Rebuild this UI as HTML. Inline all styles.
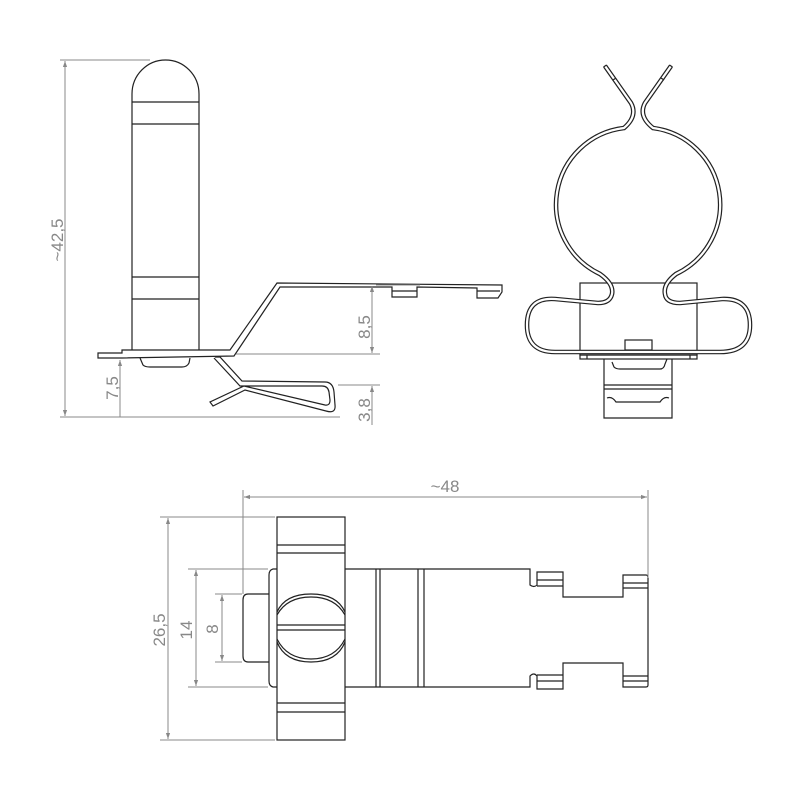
<!DOCTYPE html>
<html><head><meta charset="utf-8"><style>html,body{margin:0;padding:0;background:#fff}svg{display:block}</style></head>
<body>
<svg width="800" height="800" viewBox="0 0 800 800" xmlns="http://www.w3.org/2000/svg">
<defs>
<marker id="a" viewBox="0 0 10 10" refX="10" refY="5" markerWidth="10" markerHeight="6" orient="auto-start-reverse" markerUnits="userSpaceOnUse"><path d="M0,1.5 L10,5 L0,8.5 z" fill="#888"/></marker>
</defs>
<g fill="none" stroke="#222" stroke-width="1.2">
<!-- side view tube -->
<path d="M132,350 L132,94 A33.5,34 0 0 1 199,94 L199,350"/>
<line x1="132" y1="102" x2="199" y2="102"/><line x1="132" y1="124" x2="199" y2="124"/>
<line x1="132" y1="277" x2="199" y2="277"/><line x1="132" y1="299" x2="199" y2="299"/>
<!-- base plate -->
<path d="M98,353 L122,353 L122,350 L230,350 L277,283 L502,285 L502,292 L498,298 L477,298 L477,288 L417,287 L417,297 L392,297 L392,287 L280,287 L234,356 L122,358 L98,358 Z"/>
<line x1="477" y1="291" x2="500" y2="291"/>
<line x1="392" y1="291" x2="417" y2="291"/>
<path d="M140,358 L143,365 Q145,367 150,367 L182,367 Q187,367 189,363 L190,358"/>
<!-- lower spring -->
<path d="M215,357 L220,357 L242,381 L325,382 Q333,382 334,392 L335,405 Q336,414 326,411 L245,390 L213,406 L210,402 L244,386 L325,405 Q330,406 330,400 L329,392 Q328,386 322,386 L240,386 L214,358"/>
<!-- front view block -->
<rect x="580" y="283" width="117" height="72"/>
<rect x="580" y="355" width="117" height="4"/>
<line x1="587" y1="355" x2="587" y2="359"/><line x1="690" y1="355" x2="690" y2="359"/>
<rect x="625" y="340" width="27" height="10"/>
</g>
<!-- front wire: double-line -->
<path d="M605,66 L631,103 Q638,116 624,128 A77 77 0 0 0 600,274 Q614,284 612,294 Q610,303 598,303 L555,299 Q527,297 527,325 Q527,352 555,352 L720,352 Q750,352 750,325 Q750,298 722,299 L680,303 Q666,303 665,294 Q663,284 676,274 A77 77 0 0 0 653,128 Q638,116 645,103 L671,66" fill="none" stroke="#222" stroke-width="4.6"/>
<path d="M605,66 L631,103 Q638,116 624,128 A77 77 0 0 0 600,274 Q614,284 612,294 Q610,303 598,303 L555,299 Q527,297 527,325 Q527,352 555,352 L720,352 Q750,352 750,325 Q750,298 722,299 L680,303 Q666,303 665,294 Q663,284 676,274 A77 77 0 0 0 653,128 Q638,116 645,103 L671,66" fill="none" stroke="#fff" stroke-width="2.2"/>
<g fill="none" stroke="#222" stroke-width="1.2">
<line x1="603.5" y1="67" x2="606.5" y2="65"/><line x1="669.5" y1="65" x2="672.5" y2="67"/>
<line x1="613" y1="80" x2="616" y2="78"/><line x1="661" y1="78" x2="664" y2="80"/>
<path d="M604,359 L604,418 L672,418 L672,359"/>
<path d="M612,362 L614,367 Q616,369 620,369 L660,369 Q664,369 665,364 L667,359"/>
<line x1="604" y1="385" x2="672" y2="385"/><line x1="604" y1="389" x2="672" y2="389"/>
<path d="M607,398 Q612,396 616,402 L660,402 Q664,396 669,398"/>
<!-- bottom view -->
<rect x="277" y="517" width="68" height="223"/>
<line x1="277" y1="545" x2="345" y2="545"/><line x1="277" y1="553" x2="345" y2="553"/>
<line x1="277" y1="703" x2="345" y2="703"/><line x1="277" y1="712" x2="345" y2="712"/>
<path d="M277,569 L273,569 Q269,570 269,575 L269,681 Q269,686 273,687 L277,687"/>
<path d="M269,594 L248,594 Q243,594 243,600 L243,656 Q243,662 248,662 L269,662"/>
<path d="M345,569 L530,569 L530,585 Q534,588 537,585 L537,572 L563,572 L563,597 L623,597 L623,575 L646,575 Q648,575 648,578 L648,685 Q648,687 646,687 L623,687 L623,663 L563,663 L563,689 L537,689 L537,676 Q534,672 530,676 L530,687 L345,687"/>
<line x1="537" y1="580" x2="563" y2="580"/><line x1="537" y1="586" x2="563" y2="586"/>
<line x1="537" y1="675" x2="563" y2="675"/><line x1="537" y1="681" x2="563" y2="681"/>
<line x1="623" y1="583" x2="648" y2="583"/><line x1="623" y1="588" x2="648" y2="588"/>
<line x1="623" y1="676" x2="648" y2="676"/><line x1="623" y1="681" x2="648" y2="681"/>
<line x1="376" y1="569" x2="376" y2="687"/><line x1="380" y1="569" x2="380" y2="687"/>
<line x1="418" y1="569" x2="418" y2="687"/><line x1="424" y1="569" x2="424" y2="687"/>
<path d="M277,612 Q285,594 311,594 Q337,594 345,612"/>
<path d="M277,615 Q287,597 311,597 Q335,597 345,615"/>
<path d="M277,642 Q285,662 311,662 Q337,662 345,642"/>
<path d="M277,639 Q287,659 311,659 Q335,659 345,639"/>
<line x1="277" y1="625" x2="345" y2="625"/><line x1="277" y1="630" x2="345" y2="630"/>
</g>
<!-- dimensions -->
<g fill="none" stroke="#888" stroke-width="1">
<line x1="60" y1="60" x2="150" y2="60"/><line x1="60" y1="417" x2="340" y2="417"/>
<line x1="65" y1="61" x2="65" y2="416" marker-start="url(#a)" marker-end="url(#a)"/>
<line x1="120" y1="360" x2="120" y2="417" marker-start="url(#a)"/>
<line x1="420" y1="285" x2="376" y2="285"/>
<line x1="236" y1="354" x2="380" y2="354"/>
<line x1="338" y1="385" x2="380" y2="385"/>
<line x1="372" y1="286" x2="372" y2="353" marker-start="url(#a)" marker-end="url(#a)"/>
<line x1="372" y1="386" x2="372" y2="425" marker-start="url(#a)"/>
<line x1="243" y1="490" x2="243" y2="594"/><line x1="648" y1="490" x2="648" y2="578"/>
<line x1="244" y1="497" x2="647" y2="497" marker-start="url(#a)" marker-end="url(#a)"/>
<line x1="160" y1="517" x2="275" y2="517"/><line x1="160" y1="740" x2="275" y2="740"/>
<line x1="168" y1="518" x2="168" y2="739" marker-start="url(#a)" marker-end="url(#a)"/>
<line x1="188" y1="569" x2="268" y2="569"/><line x1="188" y1="687" x2="268" y2="687"/>
<line x1="196" y1="570" x2="196" y2="686" marker-start="url(#a)" marker-end="url(#a)"/>
<line x1="215" y1="594" x2="242" y2="594"/><line x1="215" y1="662" x2="242" y2="662"/>
<line x1="222" y1="595" x2="222" y2="661" marker-start="url(#a)" marker-end="url(#a)"/>
</g>
<g fill="#888" font-family="'Liberation Sans', sans-serif" font-size="17">
<text transform="translate(63,240) rotate(-90)" text-anchor="middle">~42,5</text>
<text transform="translate(118,388) rotate(-90)" text-anchor="middle">7,5</text>
<text transform="translate(370,327) rotate(-90)" text-anchor="middle">8,5</text>
<text transform="translate(370,410) rotate(-90)" text-anchor="middle">3,8</text>
<text x="445" y="492" text-anchor="middle">~48</text>
<text transform="translate(165,630) rotate(-90)" text-anchor="middle">26,5</text>
<text transform="translate(192,630) rotate(-90)" text-anchor="middle">14</text>
<text transform="translate(218,629) rotate(-90)" text-anchor="middle">8</text>
</g>
</svg>
</body></html>
